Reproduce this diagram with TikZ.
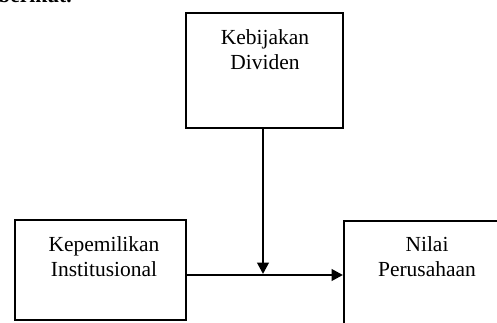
\documentclass[tikz,border=0pt]{standalone}
\usepackage{fontspec}
\setmainfont{Liberation Serif}
\usetikzlibrary{arrows.meta}
\begin{document}
\begin{tikzpicture}[x=0.75pt,y=-0.75pt,
  box/.style={draw=black,line width=1.6pt,rectangle,inner sep=0pt},
  txt/.style={align=center,inner sep=0pt,font=\fontsize{16.1}{18.75}\selectfont},
  conn/.style={line width=2pt,-{Triangle[length=8.5pt,width=8.5pt]}}]
\useasboundingbox (0,0) rectangle (497,322);
\clip (0,0) rectangle (497,322);
% cropped heading fragment
\node[font=\fontsize{16.1}{18.75}\selectfont\bfseries,inner sep=0pt,anchor=base east] (head) at (72,2.5) {berikut.};
% boxes
\node[box,minimum width=117.75pt,minimum height=86.25pt] (div) at (264.5,70.5) {};
\node[box,minimum width=128.25pt,minimum height=75pt] (kep) at (100.5,270) {};
\node[box,minimum width=128.25pt,minimum height=82.5pt,anchor=north west] (nil) at (343,220) {};
% texts
\node[txt,anchor=north] (tdiv) at (265,29.5) {Kebijakan\\Dividen};
\node[txt,anchor=north] (tkep) at (104,236) {Kepemilikan\\Institusional};
\node[txt,anchor=north] (tnil) at (427,236) {Nilai\\Perusahaan};
% connectors
\coordinate (j) at (263,274);
\draw[conn] (kep.east |- 0,275) -- (nil.west |- 0,275);
\draw[conn] (div.south -| j) -- (j);
\end{tikzpicture}
\end{document}
